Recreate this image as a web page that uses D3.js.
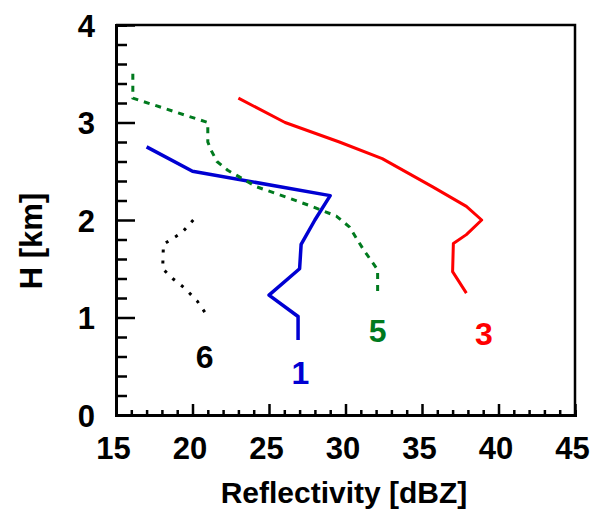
<!DOCTYPE html>
<html>
<head>
<meta charset="utf-8">
<script src="https://cdn.jsdelivr.net/npm/d3@7"></script>
<style>
  body { margin: 0; background: #fff; }
  svg text { font-family: "Liberation Sans", Arial, Helvetica, sans-serif; font-weight: bold; }
</style>
</head>
<body>
<svg id="chart" width="591" height="510"></svg>
<script>
// Reflectivity profiles, values: [dBZ, km]
const profile1 = [[17, 2.75], [20, 2.5], [29, 2.25], [28, 2.0], [27.1, 1.75], [27.0, 1.5], [25.0, 1.23], [26.9, 1.01], [26.9, 0.77]];
const profile3 = [[23, 3.25], [26.05, 3.0], [29.6, 2.8], [32.4, 2.63], [35.7, 2.34], [37.9, 2.14], [38.9, 2.0], [37.9, 1.85], [37.05, 1.76], [37.0, 1.47], [37.9, 1.25]];
const profile5 = [[16.1, 3.5], [16.1, 3.25], [21.0, 3.0], [21.0, 2.8], [21.2, 2.72], [21.6, 2.6], [22.3, 2.51], [24.2, 2.34], [26.2, 2.23], [27.8, 2.14], [29.4, 2.04], [30.25, 1.93], [31.2, 1.69], [32.1, 1.49], [32.1, 1.25]];
const profile6 = [[20.05, 2.0], [19.3, 1.87], [18.1, 1.75], [18.05, 1.5], [18.7, 1.4], [19.5, 1.3], [20.3, 1.17], [21.0, 1.01]];

const seriesNames = ["1", "3", "5", "6"];
const seriesColors = ["#0000d2", "#ff0000", "#007a1e", "#000000"];
const labelPos = [[27.05, 0.44], [39.05, 0.84], [32.1, 0.87], [20.8, 0.6]];

const xTicks = [15, 20, 25, 30, 35, 40, 45];
const yTicks = [0, 1, 2, 3, 4];

const svg = d3.select("#chart");

const x = d3.scaleLinear().domain([15, 45]).range([116, 575]);
const y = d3.scaleLinear().domain([0, 4]).range([415, 25]);

// frame (top + right)
svg.append("path")
  .attr("d", `M${x(15)},${y(4)} H${x(45)} V${y(0)}`)
  .attr("fill", "none")
  .attr("stroke", "#000")
  .attr("stroke-width", 2.5);

// minor ticks, pointing inward
const xMinor = d3.range(16, 45, 1).filter((v) => v % 5 !== 0);
const yMinor = d3.range(1, 20).map((i) => i * 0.2).filter((v) => Math.abs(v - Math.round(v)) > 0.01);

const xAxis = svg.append("g").attr("transform", `translate(0,${y(0)})`);
xAxis.call(d3.axisBottom(x).tickValues(xMinor).tickSize(-5).tickFormat(""));
xAxis.append("g").call(d3.axisBottom(x).tickValues(xTicks).tickSize(-11).tickSizeOuter(0).tickPadding(22).tickFormat(d3.format("d")));

const yAxis = svg.append("g").attr("transform", `translate(${x(15)},0)`);
yAxis.call(d3.axisLeft(y).tickValues(yMinor).tickSize(-11).tickFormat(""));
yAxis.append("g").call(d3.axisLeft(y).tickValues(yTicks).tickSize(-19).tickSizeOuter(0).tickPadding(21).tickFormat(d3.format("d")));

svg.selectAll(".domain").attr("stroke", "#000").attr("stroke-width", 3);
svg.selectAll(".tick line").attr("stroke", "#000").attr("stroke-width", 2.5);
svg.selectAll(".tick text")
  .attr("fill", "#000")
  .style("font-size", "31px");
xAxis.selectAll(".tick text").attr("dy", "0.71em").attr("dx", -3);
yAxis.selectAll(".tick text").attr("dy", "0.36em");

// axis titles
svg.append("text")
  .attr("x", 344)
  .attr("y", 503)
  .attr("text-anchor", "middle")
  .style("font-size", "30px")
  .text("Reflectivity [dBZ]");

svg.append("text")
  .attr("transform", "translate(42,241) rotate(-90)")
  .attr("text-anchor", "middle")
  .style("font-size", "31px")
  .text("H [km]");

// profiles
const line = d3.line().x((d) => x(d[0])).y((d) => y(d[1]));
const profiles = [profile1, profile3, profile5, profile6];
const widths = [3.5, 3, 3, 3];
const dashes = [null, null, "6,6", "3,8"];

profiles.forEach((p, i) => {
  svg.append("path")
    .datum(p)
    .attr("d", line)
    .attr("fill", "none")
    .attr("stroke", seriesColors[i])
    .attr("stroke-width", widths[i])
    .attr("stroke-dasharray", dashes[i])
    .attr("stroke-linejoin", "round");

  svg.append("text")
    .attr("x", x(labelPos[i][0]))
    .attr("y", y(labelPos[i][1]))
    .attr("dy", "0.36em")
    .attr("text-anchor", "middle")
    .attr("fill", seriesColors[i])
    .style("font-size", "32px")
    .text(seriesNames[i]);
});
</script>
</body>
</html>
